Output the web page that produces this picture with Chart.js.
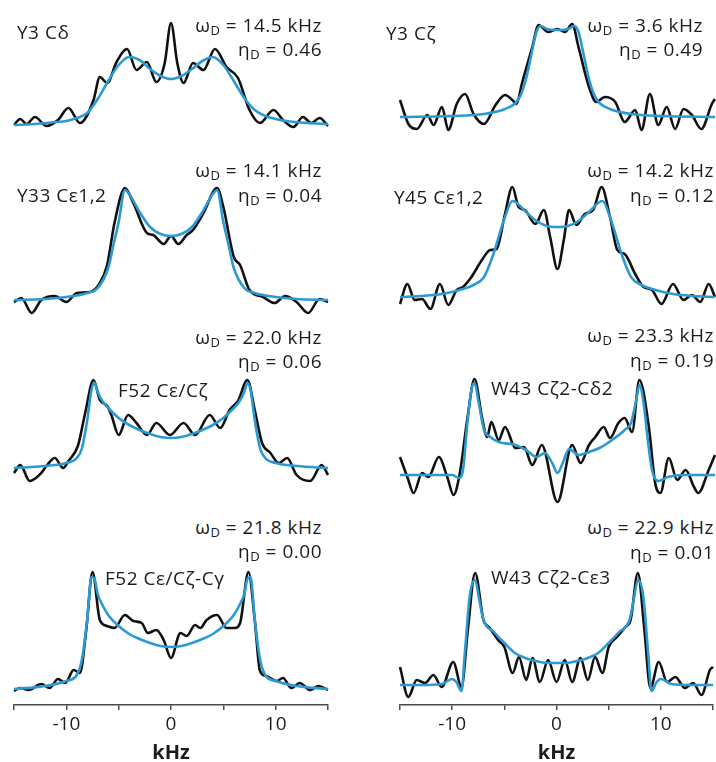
<!DOCTYPE html>
<html>
<head>
<meta charset="utf-8">
<script src="https://cdn.jsdelivr.net/npm/chart.js@4"></script>
<style>
  body { margin: 0; width: 716px; height: 762px; position: relative; background: #fff; overflow: hidden;
         font-family: "Open Sans", sans-serif; color: #1e1b1c; }
  canvas { position: absolute; }
  .lbl { position: absolute; font-size: 19px; line-height: 20px; letter-spacing: 0.5px; white-space: nowrap; }
  .lbl sub { font-size: 13px; vertical-align: -3px; line-height: 0; }
</style>
</head>
<body>
<script>
// frequency axis (kHz)
const xTicksMin = -15, xTicksMax = 15, xTickStep = 5;

// Y3 Cδ
const y3cdExpX = [-15,-14.4,-13.8,-13.0,-11.9,-10.8,-9.8,-8.7,-7.4,-6.8,-6.1,-5.2,-4.2,-3.3,-2.3,-1.4,-0.6,0,0.6,1.2,2.1,3.1,4.2,5.3,6.4,7.5,8.5,9.8,10.7,11.7,12.6,13.4,14.2,15];
const y3cdExp  = [0,6,1,8,-1,5,17,2,25,48,42,63,76,55,63,43,62,102,62,42,62,55,76,58,47,15,2,15,5,-2,8,2,7,-1];
const y3cdFitX = [-15,-13,-11,-10,-9,-8,-7,-6,-5,-4,-3,-2,-1,0,1,2,3,4,5,6,7,8,9,10,11,13,15];
const y3cdFit  = [0,1,3,4,7,12,26,44,60,68,65,56,49,46,49,56,64,68,60,44,27,15,9,6,4,2,1];

// Y3 Cζ
const y3czExpX = [-15,-14.2,-13.4,-12.4,-11.8,-11.0,-10.4,-9.6,-8.8,-8.0,-7.0,-5.9,-5.0,-4.3,-3.9,-3.4,-2.4,-1.8,-0.9,0,0.7,1.4,2.0,3.0,3.7,4.5,5.5,6.4,7.4,8.0,8.8,9.6,10.4,11.2,12.0,12.8,13.7,14.7,15];
const y3czExp  = [17,-7,-12,2,-8,10,-13,13,23,3,-7,12,22,17,13,33,70,92,85,88,85,93,70,30,15,20,15,-5,7,-13,23,-8,10,-12,8,2,-12,13,18];
const y3czFitX = [-15,-10,-7,-5,-4,-3.5,-3,-2.5,-2,-1.6,-1,0,1,1.6,2,2.5,3,3.5,4,5,7,10,15];
const y3czFit  = [0,1,3,8,14,22,38,62,85,91,88,87,88,91,85,62,38,22,14,8,3,1,0];

// Y33 Cε1,2
const y33ExpX = [-15,-14.3,-13.3,-12.4,-11.1,-10.0,-9.0,-7.7,-6.8,-6.1,-5.4,-4.4,-3.6,-2.3,-1.7,-0.7,0,0.7,1.5,2.1,3.1,4.4,5.0,6.0,6.6,7.5,8.8,9.9,10.9,12.0,13.1,14.2,15];
const y33Exp  = [-2,2,-13,0,4,-2,7,8,17,35,77,112,97,67,65,56,64,56,65,70,87,112,93,43,35,10,3,-3,4,-2,-13,1,-2];
const y33FitX = [-15,-12,-10,-8,-7,-6,-5.5,-5,-4.4,-4,-3,-2,-1,0,1,2,3,4,4.4,5,5.5,6,7,8,10,12,15];
const y33Fit  = [0,1,3,7,12,32,55,78,110,106,88,73,66,64,66,73,88,106,110,78,55,32,12,7,3,1,0];

// Y45 Cε1,2
const y45ExpX = [-15,-14.3,-13.6,-12.9,-12.1,-11.2,-10.4,-9.6,-9.0,-8.2,-7.2,-6.4,-5.8,-5.0,-4.3,-3.7,-3.1,-2.1,-1.3,-0.7,0,0.6,1.1,1.8,2.6,3.4,4.2,5.0,5.7,6.4,7.4,8.2,9.0,9.9,11.0,12.0,12.8,13.6,14.4,15];
const y45Exp  = [-7,13,-3,-2,-12,13,-8,7,10,20,37,47,48,83,110,90,87,73,87,60,28,57,87,72,83,87,110,80,47,43,23,10,7,-7,13,-3,2,-5,13,0];
const y45FitX = [-15,-13,-11,-9,-8,-7,-6.2,-5,-4.3,-4,-3,-2,-1,0,1,2,3,4,4.3,5,6.2,7,8,9,11,13,15];
const y45Fit  = [0,1,3,8,12,20,40,80,96,95,85,76,71,70,71,76,85,95,96,80,40,20,12,8,3,1,0];

// F52 Cε/Cζ
const f52ExpX = [-15,-14.4,-13.5,-12.4,-11.9,-11.1,-10.3,-9.8,-8.9,-8.2,-7.4,-6.8,-6.1,-5.7,-5.0,-4.1,-3.3,-2.3,-1.4,-0.1,1.2,2.3,3.7,4.7,5.6,6.4,7.3,8.0,8.7,9.5,10.3,11.1,12.0,13.3,14.4,15];
const f52Exp  = [-5,3,-13,-5,2,10,0,7,22,55,88,68,62,53,33,53,45,33,45,33,45,33,53,40,58,67,88,58,25,15,5,10,-7,-13,3,-7];
const f52FitX = [-15,-12,-10,-9,-8.5,-8,-7.6,-7.3,-7,-6.5,-6,-5,-4,-3,-2,-1,0,1,2,3,4,5,6,6.5,7,7.3,7.6,8,8.5,9,10,12,15];
const f52Fit  = [0,2,5,10,20,48,78,85,76,66,60,50,43,38,34,31,30,31,34,38,43,50,60,66,76,85,78,48,20,10,5,2,0];

// W43 Cζ2-Cδ2
const w43dExpX = [-15,-14.3,-13.7,-12.9,-12.3,-11.3,-10.5,-9.9,-9.3,-8.6,-7.9,-7.2,-6.7,-6.3,-5.6,-5.0,-4.0,-3.2,-2.4,-1.5,0,1.4,2.2,3.0,3.6,4.4,5.0,5.8,6.4,7.1,7.8,8.7,9.3,9.8,10.6,11.4,12.2,13.0,13.4,14.4,15];
const w43dExp  = [18,-2,-18,2,-2,18,-2,-20,2,55,96,58,38,53,35,48,27,28,10,30,-27,30,12,30,38,48,37,52,57,43,95,48,-8,-18,17,-5,5,-12,-18,5,20];
const w43dFitX = [-15,-11,-10,-9.4,-9,-8.6,-8.2,-7.9,-7.5,-7,-6.4,-5.6,-4,-3,-2,-1.2,-0.5,0,0.5,1.1,2,3,4,5.2,6.4,7,7.5,7.8,8.2,8.6,9,9.6,10.5,12,15];
const w43dFit  = [0,0,0,-3,5,50,85,92,72,45,38,33,30,25,18,22,12,2,12,26,20,23,27,35,45,52,75,90,72,35,5,-6,-2,0,0];

// F52 Cε/Cζ-Cγ
const f52gExpX = [-15,-14.4,-13.6,-12.4,-11.6,-10.8,-10.1,-9.3,-8.7,-8.1,-7.5,-6.8,-6.1,-5.4,-4.4,-3.6,-2.8,-2.2,-1.4,-0.7,0,0.9,1.5,2.3,2.8,3.4,4.4,5.3,6.1,6.6,7.4,8.0,8.5,9.1,10.1,10.7,11.5,12.3,13.3,14.1,15];
const f52gExp  = [-2,1,-1,5,1,10,6,19,16,59,117,69,63,61,74,68,66,56,59,49,31,56,53,64,61,69,74,61,61,66,117,69,18,13,8,11,1,6,-1,3,-1];
const f52gFitX = [-15,-12,-10,-9,-8.5,-8,-7.6,-7.3,-7,-6.5,-6,-5,-4,-3,-2,-1,0,1,2,3,4,5,6,6.5,7,7.3,7.6,8,8.5,9,10,12,15];
const f52gFit  = [0,3,8,14,30,70,112,110,95,83,74,63,55,50,46,43,42,43,46,50,55,63,74,83,95,110,112,70,30,14,8,3,0];

// W43 Cζ2-Cε3
const w43eExpX = [-15,-14.2,-13.4,-12.6,-11.8,-11.0,-9.9,-9.1,-8.5,-7.8,-7.0,-6.4,-5.6,-5.0,-4.2,-3.6,-2.9,-2.3,-1.6,-0.8,0,0.8,1.5,2.3,3.0,3.7,4.4,5.0,5.8,6.6,7.1,7.8,8.4,9.0,9.8,10.6,11.4,12.3,13.1,13.9,14.7,15];
const w43eExp  = [18,-12,5,2,10,-2,23,-2,55,112,65,57,45,38,12,28,5,27,3,25,3,25,3,27,5,28,12,38,48,58,65,112,58,-3,23,3,8,-3,2,-10,15,18];
const w43eFitX = [-15,-13,-11,-10,-9.6,-9.1,-8.8,-8.3,-7.8,-7.4,-7,-6,-5,-4,-3,-2,-1,0,1,2,3,4,5,6,7,7.4,7.8,8.3,8.8,9.1,9.6,10,11,13,15];
const w43eFit  = [0,0,1,6,3,-6,30,90,105,85,65,53,42,32,27,24,22,22,22,24,27,32,42,53,65,85,105,90,30,-6,3,6,1,0,0];

// labels
const siteNames = ['Y3 Cδ','Y3 Cζ','Y33 Cε1,2','Y45 Cε1,2','F52 Cε/Cζ','W43 Cζ2-Cδ2','F52 Cε/Cζ-Cγ','W43 Cζ2-Cε3'];
const omegaD = ['14.5','3.6','14.1','14.2','22.0','23.3','21.8','22.9'];
const etaD   = ['0.46','0.49','0.04','0.12','0.06','0.19','0.00','0.01'];

const FONT = '"Open Sans", sans-serif';
const BLACK = '#111111', BLUE = '#2b9ad2';

// layout: col 0 = left, col 1 = right; base = pixel row of the zero line
const panels = [
  { exp: [y3cdExpX, y3cdExp], fit: [y3cdFitX, y3cdFit], col: 0, base: 125, om: 25,  et: 49,  name: [17, 32] },
  { exp: [y3czExpX, y3czExp], fit: [y3czFitX, y3czFit], col: 1, base: 117, om: 25,  et: 49,  name: [386, 33], rEdge: 703 },
  { exp: [y33ExpX, y33Exp],   fit: [y33FitX, y33Fit],   col: 0, base: 300, om: 170, et: 195, name: [17, 195] },
  { exp: [y45ExpX, y45Exp],   fit: [y45FitX, y45Fit],   col: 1, base: 297, om: 170, et: 195, name: [394, 197] },
  { exp: [f52ExpX, f52Exp],   fit: [f52FitX, f52Fit],   col: 0, base: 468, om: 337, et: 361, name: [118, 390] },
  { exp: [w43dExpX, w43dExp], fit: [w43dFitX, w43dFit], col: 1, base: 475, om: 335, et: 360, name: [491, 388] },
  { exp: [f52gExpX, f52gExp], fit: [f52gFitX, f52gFit], col: 0, base: 689, om: 527, et: 551, name: [105, 578], axis: true },
  { exp: [w43eExpX, w43eExp], fit: [w43eFitX, w43eFit], col: 1, base: 685, om: 527, et: 552, name: [491, 577], axis: true }
];
const cols = [
  { left: 0,   width: 340, padL: 14, padR: 12, rEdge: 322 },
  { left: 386, width: 330, padL: 14, padR: 1,  rEdge: 714 }
];
const AXIS_Y = 705, AXIS_H = 60, Y_MAX = 125, Y_MIN = -30;

function pts(xs, ys) { return xs.map((x, i) => ({ x: x, y: ys[i] })); }

function addLabel(html, css) {
  const d = document.createElement('div');
  d.className = 'lbl';
  d.innerHTML = html;
  Object.assign(d.style, css);
  document.body.appendChild(d);
}

panels.forEach((p, i) => {
  const c = cols[p.col];
  const yMin = p.axis ? -(AXIS_Y - p.base) : Y_MIN;
  const areaH = Y_MAX - yMin;
  const cv = document.createElement('canvas');
  cv.width = c.width;
  cv.height = areaH + (p.axis ? AXIS_H : 0);
  cv.style.left = c.left + 'px';
  cv.style.top = (p.base - Y_MAX) + 'px';
  document.body.appendChild(cv);

  const line = (data, color) => ({
    data: data, borderColor: color, borderWidth: 2.6, pointRadius: 0,
    cubicInterpolationMode: 'monotone', fill: false, clip: false
  });

  const xScale = {
    type: 'linear', min: xTicksMin, max: xTicksMax, display: !!p.axis,
    border: { display: true, color: '#4a4a4a', width: 1.5 },
    grid: { drawOnChartArea: false, drawTicks: true, tickLength: 5, color: '#4a4a4a', lineWidth: 1.5 },
    ticks: {
      stepSize: xTickStep, autoSkip: false, maxRotation: 0, padding: 3, color: '#1e1b1c',
      font: { family: FONT, size: 19 },
      callback: v => (v % 10 === 0 ? String(v) : '')
    },
    title: { display: true, text: 'kHz', color: '#1e1b1c', padding: { top: 0, bottom: 0 },
             font: { family: FONT, size: 20, weight: 'bold' } }
  };
  if (p.axis) xScale.afterFit = s => { s.height = AXIS_H; };

  new Chart(cv.getContext('2d'), {
    type: 'line',
    data: { datasets: [ line(pts(p.fit[0], p.fit[1]), BLUE), line(pts(p.exp[0], p.exp[1]), BLACK) ] },
    options: {
      responsive: false, animation: false, events: [],
      layout: { padding: { left: c.padL, right: c.padR, top: 0, bottom: 0 } },
      plugins: { legend: { display: false }, tooltip: { enabled: false } },
      scales: {
        y: { display: false, min: yMin, max: Y_MAX },
        x: xScale
      }
    }
  });

  const right = (716 - (p.rEdge || c.rEdge)) + 'px';
  addLabel('ω<sub>D</sub> = ' + omegaD[i] + ' kHz', { right: right, top: (p.om - 10) + 'px' });
  addLabel('η<sub>D</sub> = ' + etaD[i], { right: right, top: (p.et - 10) + 'px' });
  addLabel(siteNames[i], { left: p.name[0] + 'px', top: (p.name[1] - 10) + 'px' });
});
</script>
</body>
</html>
